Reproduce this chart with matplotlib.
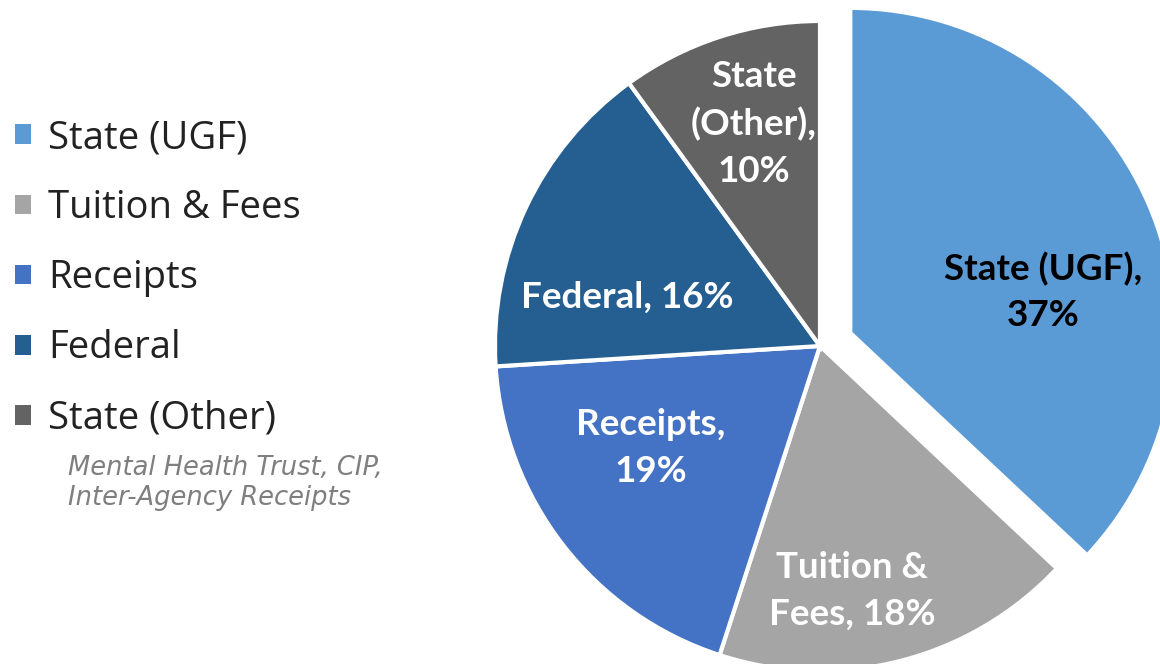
import numpy as np
import matplotlib.pyplot as plt

# data
labels = ["State (UGF)", "Tuition & Fees", "Receipts", "Federal", "State (Other)"]
values = [37, 18, 19, 16, 10]
slice_text = ["State (UGF),\n37%", "Tuition &\nFees, 18%", "Receipts,\n19%",
              "Federal, 16%", "State\n(Other),\n10%"]
note = "Mental Health Trust, CIP,\nInter-Agency Receipts"

colors = ["#5B9BD5", "#A5A5A5", "#4472C4", "#255E91", "#636363"]
text_colors = ["black", "white", "white", "white", "white"]
# label centres in pixel coords (x, y from top)
text_pos = [(1043, 292), (852, 591), (651, 448), (627, 297), (754, 124)]

W, H = 1160, 664
fig = plt.figure(figsize=(W / 100, H / 100), dpi=100)
ax = fig.add_axes([0, 0, 1, 1])

R = 325
cx, cy = 820, H - 346
explode = [33, 0, 0, 0, 0]
wedges, _ = ax.pie(values, colors=colors, startangle=90, counterclock=False,
                   explode=explode, radius=R, center=(cx, cy),
                   wedgeprops=dict(edgecolor="white", linewidth=3))

for txt, col, (px, py) in zip(slice_text, text_colors, text_pos):
    ax.text(px, H - py, txt, ha="center", va="center", color=col,
            fontsize=26.5, fontweight="bold", family="Lato", linespacing=1.5)

ax.set_xlim(0, W)
ax.set_ylim(0, H)
ax.set_aspect("equal")
ax.axis("off")

leg = fig.legend(wedges, labels, loc="upper left",
                 bbox_to_anchor=(15 / W, 1 - 119 / H),
                 frameon=False, prop=dict(family="Open Sans", size=27.5),
                 handlelength=0.42, handleheight=0.42, handletextpad=0.45,
                 labelspacing=0.84, borderpad=0, borderaxespad=0)
for h in leg.legend_handles:
    h.set_edgecolor("none")
for t in leg.get_texts():
    t.set_color("#222222")

fig.text(68 / W, 1 - 483 / H, note, ha="left", va="center", color="#7F7F7F",
         fontsize=18.5, style="italic", family="DejaVu Sans", linespacing=1.2)

fig.savefig("out.png", dpi=100)
